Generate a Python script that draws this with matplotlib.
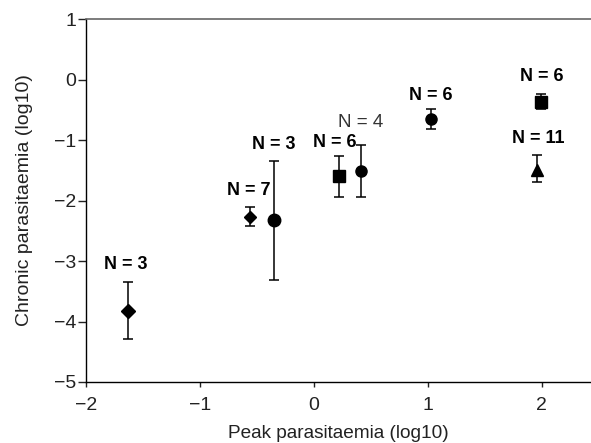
import matplotlib.pyplot as plt

plt.rcParams['font.family'] = ['Liberation Sans', 'DejaVu Sans']

# data
peak = [-1.63, -0.56, -0.35, 0.22, 0.41, 1.03, 1.99, 1.96]
chronic = [-3.82, -2.27, -2.32, -1.60, -1.52, -0.66, -0.37, -1.50]
err_hi = [-3.34, -2.11, -1.35, -1.26, -1.08, -0.49, -0.24, -1.25]
err_lo = [-4.29, -2.42, -3.31, -1.94, -1.95, -0.82, -0.49, -1.70]
markers = ['D', 'D', 'o', 's', 'o', 'o', 's', '^']
msizes = [7, 6, 9, 9, 8, 8, 8, 9]
labels = ['N = 3', 'N = 7', 'N = 3', 'N = 6', 'N = 4', 'N = 6', 'N = 6', 'N = 11']
bold = [True, True, True, True, False, True, True, True]
# label offsets in points (dx, dy) relative to each point
offsets = [(-2, 33), (-1, 19), (0, 54), (-3, 24), (0, 35), (0, 17), (1, 18), (1, 23)]

fig = plt.figure(figsize=(5.91, 4.43), dpi=100)
ax = fig.add_axes([0.1455, 0.1377, 0.854, 0.8193])

for i in range(len(peak)):
    ax.errorbar(peak[i], chronic[i],
                yerr=[[chronic[i] - err_lo[i]], [err_hi[i] - chronic[i]]],
                fmt=markers[i], color='black', ms=msizes[i],
                ecolor='black', elinewidth=1.1, capsize=3.5, capthick=1.1)
    ax.annotate(labels[i], (peak[i], chronic[i]), xytext=offsets[i],
                textcoords='offset points', ha='center', va='center',
                fontsize=13 if bold[i] else 13.5,
                fontweight='bold' if bold[i] else 'normal',
                color='black' if bold[i] else '#333333')

ax.set_xlim(-2, 2.43)
ax.set_ylim(-5, 1)
ax.set_xticks([-2, -1, 0, 1, 2])
ax.set_yticks([-5, -4, -3, -2, -1, 0, 1])
ax.set_xticklabels(['\u22122', '\u22121', '0', '1', '2'])
ax.set_yticklabels(['\u22125', '\u22124', '\u22123', '\u22122', '\u22121', '0', '1'])
ax.tick_params(axis='both', labelsize=14, colors='#222222', width=1)
ax.tick_params(axis='x', direction='out', length=3.5, pad=7)
ax.tick_params(axis='y', direction='out', length=5.5, pad=1.5)

ax.spines['right'].set_visible(False)
ax.spines['top'].set_color('#666666')
ax.spines['top'].set_linewidth(1.2)
ax.spines['left'].set_linewidth(1)
ax.spines['bottom'].set_linewidth(1)

ax.set_xlabel('Peak parasitaemia (log10)', fontsize=13.7, color='#222222', labelpad=8)
ax.set_ylabel('Chronic parasitaemia (log10)', fontsize=14, color='#222222', labelpad=15)

fig.savefig('out.png', dpi=100)
